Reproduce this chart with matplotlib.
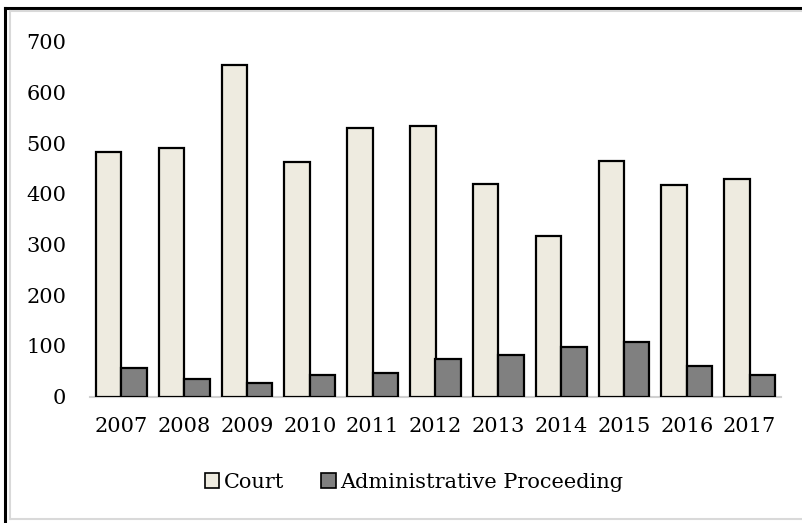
import matplotlib
matplotlib.use("Agg")
import matplotlib.pyplot as plt
import numpy as np
from matplotlib.lines import Line2D
from matplotlib.patches import Patch

years = ["2007", "2008", "2009", "2010", "2011", "2012", "2013", "2014", "2015", "2016", "2017"]
court = [483, 490, 654, 463, 530, 534, 420, 317, 465, 418, 429]
admin = [56, 35, 26, 42, 47, 73, 82, 98, 108, 60, 42]
yticks = [0, 100, 200, 300, 400, 500, 600, 700]

W, H = 803, 523
fig = plt.figure(figsize=(W / 100, H / 100), dpi=100)
plt.rcParams['font.family'] = ['DejaVu Serif']
FS = 15

ax = fig.add_axes([90 / W, 1 - 396.5 / H, (781 - 90) / W, (396.5 - 41.7) / H])
x = np.arange(len(years))
bw = 0.405
ax.bar(x - bw / 2, court, bw, color="#EEEBE0", edgecolor="black", linewidth=1.6, zorder=3, label="Court")
ax.bar(x + bw / 2, admin, bw, color="#808080", edgecolor="black", linewidth=1.6, zorder=3, label="Administrative Proceeding")
ax.set_xlim(-0.5, len(years) - 0.5)
ax.set_ylim(0, 700)
ax.set_yticks(yticks)
ax.set_yticklabels([str(v) for v in yticks], fontsize=FS)
ax.set_xticks(x)
ax.set_xticklabels(years, fontsize=FS)
for s in ["top", "right", "left"]:
    ax.spines[s].set_visible(False)
ax.spines["bottom"].set_color("#D0D0D0")
ax.spines["bottom"].set_linewidth(1.5)
ax.tick_params(axis="both", length=0)
ax.tick_params(axis="y", pad=17)
ax.tick_params(axis="x", pad=15)

handles = [Patch(facecolor="#EEEBE0", edgecolor="black", linewidth=1.2),
           Patch(facecolor="#808080", edgecolor="black", linewidth=1.2)]
fig.legend(handles, ["Court", "Administrative Proceeding"], loc="center",
           bbox_to_anchor=(414 / W, 1 - 482 / H), ncol=2, frameon=False,
           fontsize=FS, handlelength=0.7, handleheight=0.7, handletextpad=0.2,
           columnspacing=1.8)

# frame
fig.add_artist(Line2D([5.5 / W, 5.5 / W], [0, 1 - 7.5 / H], color="black", lw=2.2, transform=fig.transFigure))
fig.add_artist(Line2D([5.5 / W, 1], [1 - 7.5 / H, 1 - 7.5 / H], color="black", lw=2.2, transform=fig.transFigure))
gray = "#D9D9D9"
fig.add_artist(Line2D([10.5 / W, 1], [1 - 11 / H, 1 - 11 / H], color=gray, lw=1.5, transform=fig.transFigure))
fig.add_artist(Line2D([10.5 / W, 10.5 / W], [1 - 11 / H, 1 - 519 / H], color=gray, lw=1.5, transform=fig.transFigure))
fig.add_artist(Line2D([10.5 / W, 1], [1 - 519 / H, 1 - 519 / H], color=gray, lw=1.5, transform=fig.transFigure))

fig.savefig("out.png", dpi=100)
